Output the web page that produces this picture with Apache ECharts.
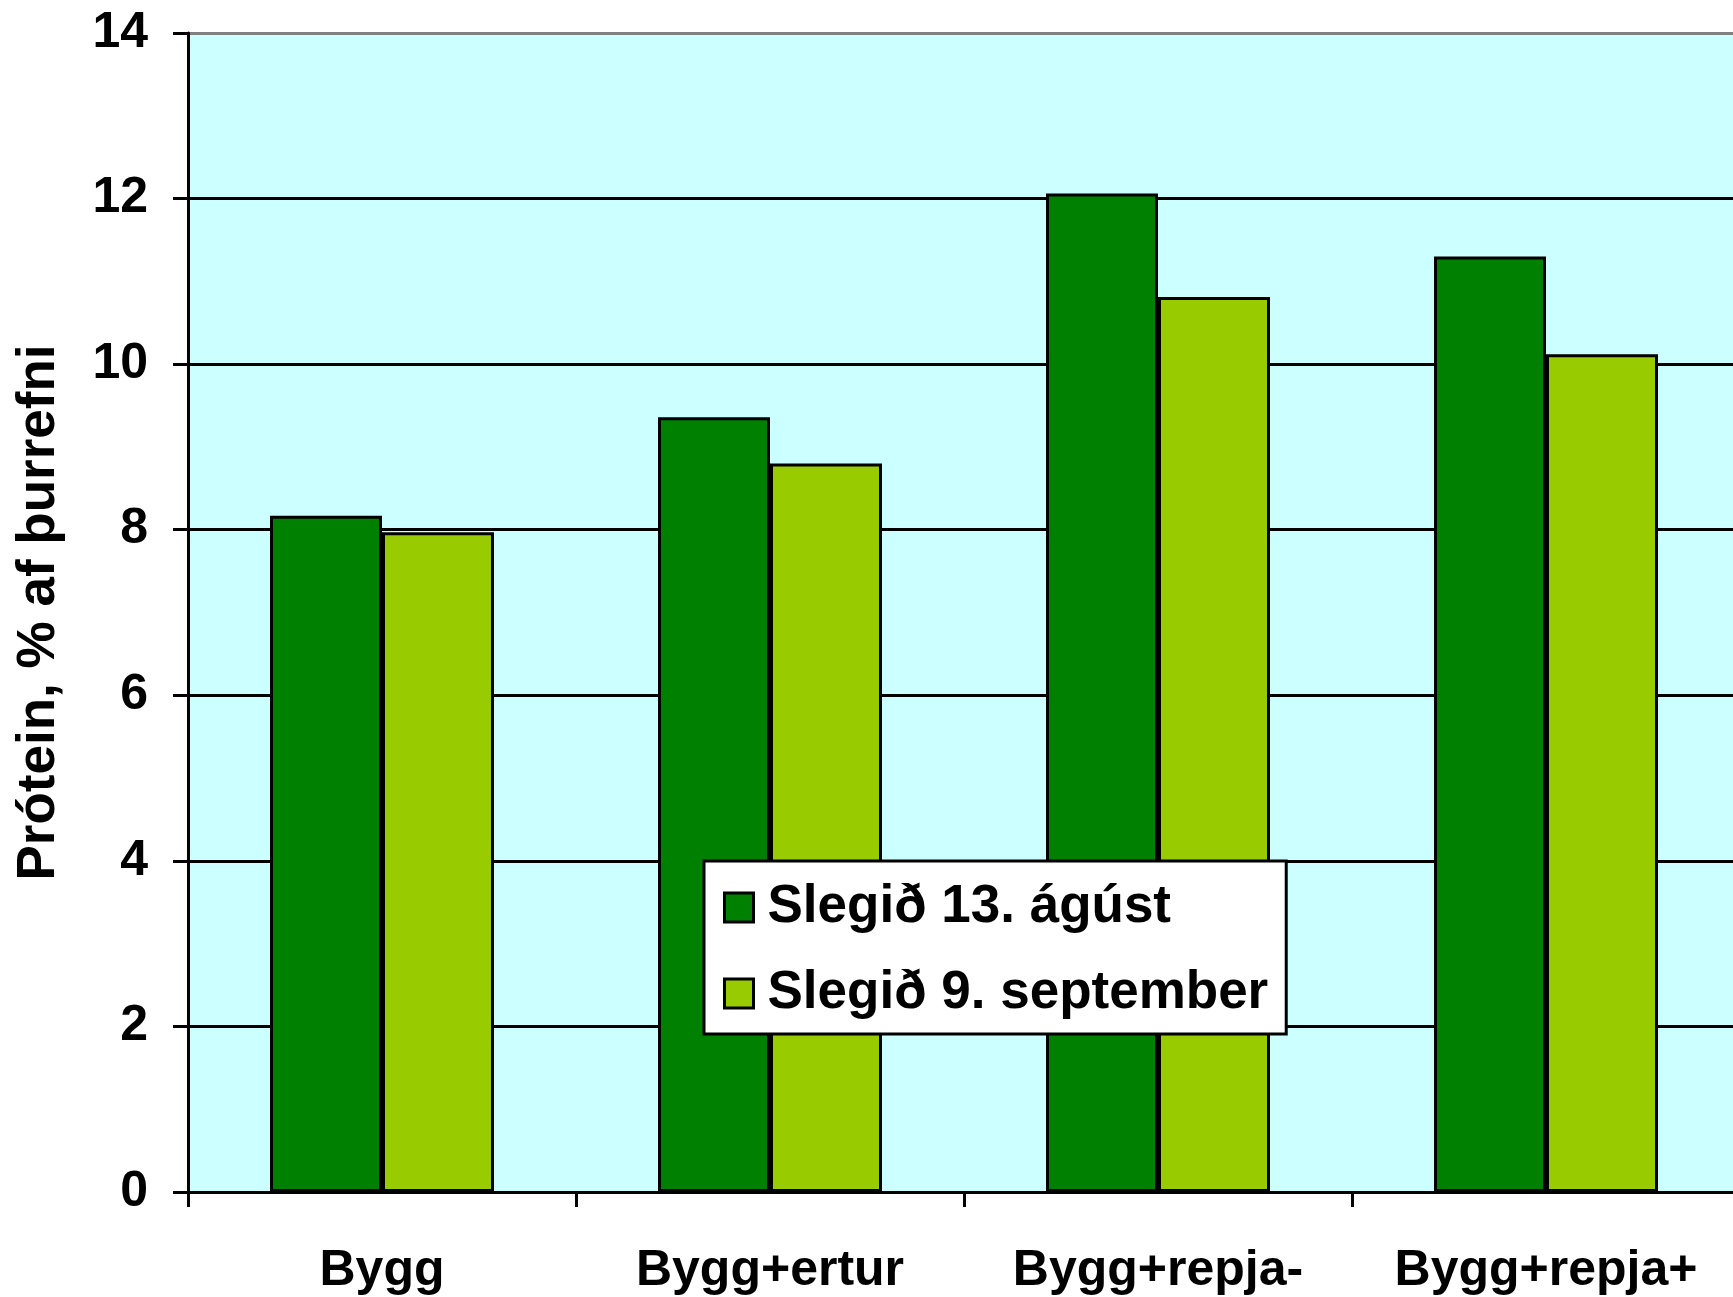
<!DOCTYPE html>
<html lang="is">
    <head>
        <meta charset="utf-8" />
        <title>Prótein</title>
        <script src="https://cdn.jsdelivr.net/npm/echarts@6/dist/echarts.min.js"></script>
        <style>
            html, body { margin: 0; padding: 0; background: #fff; }
        </style>
    </head>
    <body>
    <div id="chart" style="width: 1733px;height:1297px;"></div>
    <script type="text/javascript">
        // gögn
        const categories = ['Bygg', 'Bygg+ertur', 'Bygg+repja-', 'Bygg+repja+'];
        const series_names = ['Slegið 13. ágúst', 'Slegið 9. september'];
        const slegid_13_agust = [8.17, 9.36, 12.06, 11.30];
        const slegid_9_sept = [7.97, 8.80, 10.81, 10.12];
        const y_ticks = [0, 2, 4, 6, 8, 10, 12, 14];

        const font = '"Liberation Sans", Arial, sans-serif';

        const myChart = echarts.init(document.getElementById('chart'));
        const option = {
            backgroundColor: '#ffffff',
            animation: false,
            textStyle: {
                fontFamily: font
            },
            grid: {
                left: 188,
                width: 1552,
                top: 33,
                bottom: 105,
                outerBoundsMode: 'none',
                show: true,
                backgroundColor: '#CCFFFF',
                borderWidth: 0
            },
            legend: {
                orient: 'vertical',
                left: 704,
                top: 861,
                padding: [20, 18, 14, 19],
                backgroundColor: '#ffffff',
                borderColor: '#000000',
                borderWidth: 3,
                borderRadius: 0,
                itemWidth: 29,
                itemHeight: 29,
                itemGap: 33,
                icon: 'rect',
                itemStyle: {
                    borderColor: '#000000',
                    borderWidth: 3
                },
                textStyle: {
                    fontFamily: font,
                    fontWeight: 'bold',
                    fontSize: 53,
                    lineHeight: 52,
                    color: '#000000',
                    padding: [0, 0, 0, 9]
                },
                data: series_names
            },
            xAxis: {
                type: 'category',
                data: categories,
                axisLine: {
                    lineStyle: {color: '#000000', width: 3}
                },
                axisTick: {
                    show: true,
                    interval: 0,
                    length: 15,
                    lineStyle: {color: '#000000', width: 3}
                },
                axisLabel: {
                    interval: 0,
                    margin: 54,
                    fontFamily: font,
                    fontWeight: 'bold',
                    fontSize: 50,
                    color: '#000000'
                }
            },
            yAxis: {
                type: 'value',
                min: y_ticks[0],
                max: y_ticks[y_ticks.length - 1],
                interval: 2,
                name: 'Prótein, % af þurrefni',
                nameLocation: 'middle',
                nameGap: 122,
                nameTextStyle: {
                    fontFamily: font,
                    fontWeight: 'bold',
                    fontSize: 53,
                    color: '#000000'
                },
                axisLine: {
                    show: true,
                    lineStyle: {color: '#000000', width: 3}
                },
                axisTick: {
                    show: true,
                    length: 15,
                    lineStyle: {color: '#000000', width: 3}
                },
                axisLabel: {
                    margin: 40,
                    fontFamily: font,
                    fontWeight: 'bold',
                    fontSize: 50,
                    color: '#000000'
                },
                splitLine: {
                    lineStyle: {
                        color: ['#000000', '#000000', '#000000', '#000000',
                                '#000000', '#000000', '#000000', '#808080'],
                        width: 3
                    }
                }
            },
            series: [
                {
                    type: 'bar',
                    name: series_names[0],
                    data: slegid_13_agust,
                    barWidth: 112,
                    barGap: '0%',
                    itemStyle: {
                        color: '#008000',
                        borderColor: '#000000',
                        borderWidth: 3
                    }
                },
                {
                    type: 'bar',
                    name: series_names[1],
                    data: slegid_9_sept,
                    barWidth: 112,
                    barGap: '0%',
                    itemStyle: {
                        color: '#99CC00',
                        borderColor: '#000000',
                        borderWidth: 3
                    }
                }
            ]
        };
        myChart.setOption(option);
    </script>
    </body>
</html>
